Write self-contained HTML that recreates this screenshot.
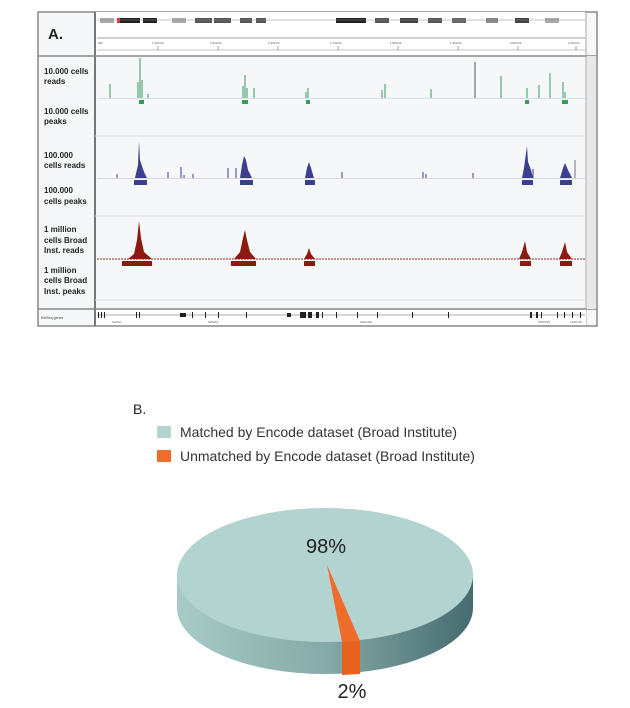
<!DOCTYPE html>
<html><head><meta charset="utf-8"><style>
body{margin:0;background:#fff;width:630px;height:708px;overflow:hidden;font-family:"Liberation Sans",sans-serif}
</style></head><body>
<svg width="630" height="708" xmlns="http://www.w3.org/2000/svg" style="position:absolute;left:0;top:0">
<!-- Panel A -->
<rect x="38" y="12" width="559" height="314" fill="#f6f7f9" stroke="#888" stroke-width="1.5"/>
<rect x="95" y="12" width="490" height="44" fill="#fff"/>
<line x1="95" y1="12" x2="95" y2="326" stroke="#777" stroke-width="2"/>
<line x1="38" y1="56" x2="597" y2="56" stroke="#888" stroke-width="1.5"/>
<line x1="38" y1="309" x2="597" y2="309" stroke="#888" stroke-width="1.5"/>
<line x1="586" y1="12" x2="586" y2="326" stroke="#aaa" stroke-width="1"/>
<rect x="587" y="56" width="9" height="253" fill="#e8e8e8"/>
<line x1="95" y1="136" x2="586" y2="136" stroke="#ddd"/>
<line x1="95" y1="216" x2="586" y2="216" stroke="#ddd"/>
<line x1="95" y1="300" x2="586" y2="300" stroke="#ddd"/>
<rect x="96" y="310" width="490" height="15" fill="#fff"/>
<!-- chromosome ideogram -->
<g fill="#222">
<rect x="100" y="18" width="14" height="5" fill="#aaa"/><rect x="118" y="18" width="22" height="5"/><rect x="143" y="18" width="14" height="5"/>
<rect x="172" y="18" width="14" height="5" fill="#aaa"/><rect x="195" y="18" width="17" height="5" fill="#555"/><rect x="214" y="18" width="17" height="5" fill="#555"/>
<rect x="240" y="18" width="12" height="5" fill="#555"/><rect x="256" y="18" width="10" height="5" fill="#555"/>
<rect x="336" y="18" width="30" height="5"/><rect x="375" y="18" width="14" height="5" fill="#555"/><rect x="400" y="18" width="18" height="5" fill="#444"/>
<rect x="428" y="18" width="14" height="5" fill="#555"/><rect x="452" y="18" width="14" height="5" fill="#666"/><rect x="486" y="18" width="12" height="5" fill="#888"/>
<rect x="515" y="18" width="14" height="5" fill="#444"/><rect x="545" y="18" width="14" height="5" fill="#aaa"/>
<rect x="117" y="18" width="3" height="5" fill="#d33"/>
</g>
<line x1="97" y1="20" x2="585" y2="20" stroke="#888" stroke-width="0.5"/>
<line x1="97" y1="38" x2="585" y2="38" stroke="#444" stroke-width="0.6"/>
<line x1="97" y1="50" x2="585" y2="50" stroke="#888" stroke-width="0.5"/>
<g stroke="#666" stroke-width="0.6">
<line x1="158" y1="46" x2="158" y2="50"/><line x1="218" y1="46" x2="218" y2="50"/><line x1="278" y1="46" x2="278" y2="50"/><line x1="338" y1="46" x2="338" y2="50"/><line x1="398" y1="46" x2="398" y2="50"/><line x1="458" y1="46" x2="458" y2="50"/><line x1="518" y1="46" x2="518" y2="50"/><line x1="576" y1="46" x2="576" y2="50"/>
</g>
<g font-size="3" fill="#555"><text x="98" y="44">0kb</text><text x="152" y="44">1,400 kb</text><text x="210" y="44">1,500 kb</text><text x="268" y="44">1,600 kb</text><text x="330" y="44">1,700 kb</text><text x="390" y="44">1,800 kb</text><text x="450" y="44">1,900 kb</text><text x="510" y="44">2,000 kb</text><text x="568" y="44">2,100 kb</text></g>
<!-- labels -->
<text x="48" y="39" font-size="15" font-weight="bold" fill="#222">A.</text>
<g font-size="8" font-weight="bold" fill="#222">
<text x="44" y="74">10.000 cells</text><text x="44" y="84">reads</text>
<text x="44" y="114">10.000 cells</text><text x="44" y="124">peaks</text>
<text x="44" y="158">100.000</text><text x="44" y="168">cells reads</text>
<text x="44" y="193">100.000</text><text x="44" y="204">cells peaks</text>
<text x="44" y="232">1 million</text><text x="44" y="243">cells Broad</text><text x="44" y="253">Inst. reads</text>
<text x="44" y="273">1 million</text><text x="44" y="283">cells Broad</text><text x="44" y="294">Inst. peaks</text>
</g>
<text x="41" y="319" font-size="3.5" fill="#444">RefSeq genes</text>
<!-- green track -->
<line x1="97" y1="98.5" x2="585" y2="98.5" stroke="#bcd" stroke-width="0.5"/>
<g stroke="#5aa87a" stroke-width="1.2">
<line x1="110" y1="98" x2="110" y2="84"/><line x1="140" y1="98" x2="140" y2="58"/><line x1="138" y1="98" x2="138" y2="82"/><line x1="142" y1="98" x2="142" y2="80"/><line x1="148" y1="98" x2="148" y2="94"/>
<line x1="245" y1="98" x2="245" y2="75"/><line x1="243" y1="98" x2="243" y2="86"/><line x1="247" y1="98" x2="247" y2="88"/><line x1="254" y1="98" x2="254" y2="88"/>
<line x1="308" y1="98" x2="308" y2="88"/><line x1="306" y1="98" x2="306" y2="92"/>
<line x1="382" y1="98" x2="382" y2="90"/><line x1="385" y1="98" x2="385" y2="84"/><line x1="431" y1="98" x2="431" y2="89"/>
<line x1="501" y1="98" x2="501" y2="76"/><line x1="527" y1="98" x2="527" y2="88"/><line x1="539" y1="98" x2="539" y2="85"/><line x1="550" y1="98" x2="550" y2="73"/><line x1="563" y1="98" x2="563" y2="82"/><line x1="565" y1="98" x2="565" y2="92"/>
</g>
<line x1="475" y1="98" x2="475" y2="62" stroke="#555" stroke-width="1"/>
<g fill="#3a9a5c"><rect x="139" y="100" width="5" height="4"/><rect x="242" y="100" width="6" height="4"/><rect x="306" y="100" width="4" height="4"/><rect x="525" y="100" width="4" height="4"/><rect x="562" y="100" width="6" height="4"/></g>
<!-- blue track -->
<line x1="97" y1="178.5" x2="585" y2="178.5" stroke="#bbc" stroke-width="0.5"/>
<g fill="#3b3f8f">
<polygon points="135,178 138,165 139,141 140,160 142,166 144,172 147,178"/>
<polygon points="240,178 242,165 244,156 246,160 248,170 252,178"/>
<polygon points="305,178 307,168 309,162 311,168 314,178"/>
<polygon points="522,178 524,168 527,146 528,162 531,170 533,178"/>
<polygon points="560,178 563,168 565,163 568,170 572,178"/>
<rect x="134" y="180" width="13" height="5"/><rect x="240" y="180" width="13" height="5"/><rect x="305" y="180" width="10" height="5"/><rect x="522" y="180" width="11" height="5"/><rect x="560" y="180" width="12" height="5"/>
</g>
<g stroke="#3b3f8f" stroke-width="1">
<line x1="117" y1="178" x2="117" y2="174"/><line x1="168" y1="178" x2="168" y2="172"/><line x1="181" y1="178" x2="181" y2="167"/><line x1="184" y1="178" x2="184" y2="175"/><line x1="193" y1="178" x2="193" y2="174"/>
<line x1="228" y1="178" x2="228" y2="168"/><line x1="236" y1="178" x2="236" y2="168"/><line x1="342" y1="178" x2="342" y2="172"/><line x1="423" y1="178" x2="423" y2="172"/><line x1="426" y1="178" x2="426" y2="174"/><line x1="473" y1="178" x2="473" y2="173"/><line x1="533" y1="178" x2="533" y2="169"/>
</g>
<line x1="575" y1="178" x2="575" y2="160" stroke="#889" stroke-width="1.2"/>
<!-- red track -->
<line x1="97" y1="259" x2="585" y2="259" stroke="#8b2a1a" stroke-width="1" stroke-dasharray="2,1"/>
<g fill="#8b1a10">
<polygon points="128,259 134,254 137,240 139,221 141,238 144,252 152,259"/>
<polygon points="234,259 240,252 243,238 245,230 247,240 250,252 256,259"/>
<polygon points="304,259 307,254 309,248 311,254 315,259"/>
<polygon points="519,259 522,252 525,241 527,252 531,259"/>
<polygon points="559,259 562,252 565,242 567,252 572,259"/>
<rect x="122" y="261" width="30" height="5"/><rect x="231" y="261" width="25" height="5"/><rect x="304" y="261" width="11" height="5"/><rect x="520" y="261" width="11" height="5"/><rect x="560" y="261" width="12" height="5"/>
</g>
<!-- gene track -->
<line x1="97" y1="315" x2="585" y2="315" stroke="#555" stroke-width="0.6"/>
<g fill="#222">
<rect x="98" y="312" width="1" height="6"/><rect x="101" y="312" width="1" height="6"/><rect x="104" y="312" width="1" height="6"/><rect x="136" y="312" width="1" height="6"/><rect x="139" y="312" width="1" height="6"/>
<rect x="180" y="313" width="6" height="4"/><rect x="192" y="312" width="1" height="6"/><rect x="205" y="312" width="1" height="6"/><rect x="218" y="312" width="1" height="6"/><rect x="246" y="312" width="1" height="6"/>
<rect x="287" y="313" width="4" height="4"/><rect x="300" y="312" width="6" height="6"/><rect x="308" y="312" width="4" height="6"/><rect x="316" y="312" width="3" height="6"/><rect x="322" y="312" width="1" height="6"/><rect x="336" y="312" width="1" height="6"/><rect x="357" y="312" width="1" height="6"/><rect x="377" y="312" width="1" height="6"/><rect x="412" y="312" width="1" height="6"/><rect x="448" y="312" width="1" height="6"/>
<rect x="530" y="312" width="2" height="6"/><rect x="536" y="312" width="2" height="6"/><rect x="541" y="312" width="1" height="6"/><rect x="557" y="312" width="1" height="6"/><rect x="564" y="312" width="1" height="6"/><rect x="572" y="312" width="1" height="6"/><rect x="580" y="312" width="1" height="6"/>
</g>
<g font-size="3" fill="#666"><text x="112" y="323">SH3GL</text><text x="208" y="323">SEMA3</text><text x="360" y="323">ARHGEF</text><text x="538" y="323">PRDM16</text><text x="570" y="323">LRRC48</text></g>

<!-- Panel B -->
<text x="133" y="414" font-size="14" fill="#222">B.</text>
<rect x="157" y="426" width="14" height="12" fill="#b2d3cf"/>
<rect x="157" y="450" width="14" height="12" fill="#f06c2a"/>
<text x="180" y="437" font-size="14" fill="#333">Matched by Encode dataset (Broad Institute)</text>
<text x="180" y="461" font-size="14" fill="#333">Unmatched by Encode dataset (Broad Institute)</text>
<defs>
<linearGradient id="side" x1="0" x2="1" y1="0" y2="0">
<stop offset="0" stop-color="#a9cbc7"/><stop offset="0.5" stop-color="#86aaa7"/><stop offset="1" stop-color="#466b70"/>
</linearGradient>
</defs>
<path d="M177,575 L177,608 A148,66 0 0 0 473,608 L473,575 Z" fill="url(#side)"/>
<ellipse cx="325" cy="575" rx="148" ry="67" fill="#b2d3cf"/>
<polygon points="327,565 342,642 360,641" fill="#f06c2a"/>
<path d="M342,642 L360,641 L360,674 L342,675 Z" fill="#e8621f"/>
<text x="326" y="553" font-size="20" fill="#222" text-anchor="middle">98%</text>
<text x="352" y="698" font-size="20" fill="#222" text-anchor="middle">2%</text>
</svg>
</body></html>
